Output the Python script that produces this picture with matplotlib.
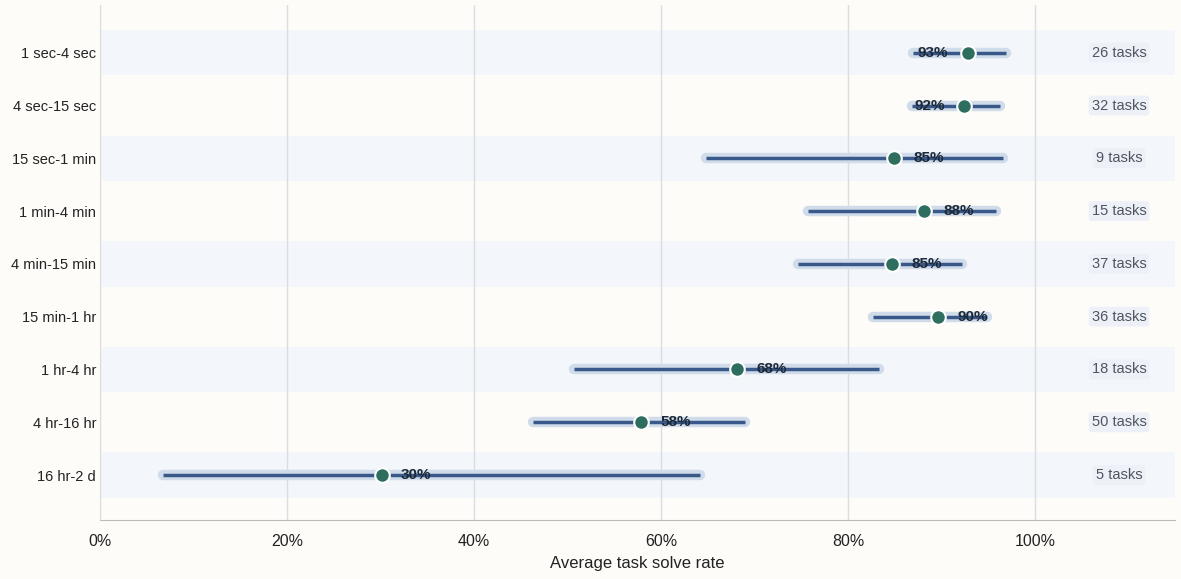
import numpy as np
import matplotlib.pyplot as plt

plt.rcParams['font.family'] = ['Liberation Sans', 'DejaVu Sans']

buckets = ['1 sec-4 sec', '4 sec-15 sec', '15 sec-1 min', '1 min-4 min', '4 min-15 min',
           '15 min-1 hr', '1 hr-4 hr', '4 hr-16 hr', '16 hr-2 d']
solve = [92.8, 92.4, 84.9, 88.1, 84.7, 89.6, 68.1, 57.9, 30.1]
low = [87.0, 86.8, 64.8, 75.7, 74.7, 82.7, 50.7, 46.3, 6.7]
high = [96.9, 96.3, 96.6, 95.8, 92.2, 94.9, 83.3, 69.0, 64.2]
ntasks = [26, 32, 9, 15, 37, 36, 18, 50, 5]

bg = '#fdfcf8'
fig = plt.figure(figsize=(11.81, 5.79), dpi=100, facecolor=bg)
axe = fig.add_axes([0.085, 0.102, 0.91, 0.889])
axe.set_facecolor(bg)

y = np.arange(len(buckets))

# alternating row bands
for i in y:
    if i % 2 == 0:
        axe.axhspan(i - 0.43, i + 0.43, color='#f3f6fa', zorder=0, lw=0)

for i in y:
    axe.plot([low[i], high[i]], [i, i], color='#d0dcea', lw=7.5, solid_capstyle='round', zorder=2)
    axe.plot([low[i], high[i]], [i, i], color='#38598a', lw=2.5, solid_capstyle='butt', zorder=3)
axe.scatter(solve, y, s=110, color='#2d6e5e', edgecolor='white', linewidth=1.5, zorder=4)

for i in y:
    if solve[i] > 91:
        xt = solve[i] - 3.7
    else:
        xt = solve[i] + 3.7
    axe.text(xt, i, '%d%%' % round(solve[i]), ha='center', va='center', fontsize=11,
             fontweight='bold', color='#1c2836', zorder=5)
    axe.text(109, i, '%d tasks' % ntasks[i], ha='center', va='center', fontsize=10.5,
             color='#4f5560', zorder=5,
             bbox=dict(boxstyle='round,pad=0.2', fc='#edf1f7', ec='none'))

axe.set_xlim(0, 115)
axe.set_ylim(8.85, -0.9)
axe.set_xticks([0, 20, 40, 60, 80, 100])
axe.set_xticklabels(['0%', '20%', '40%', '60%', '80%', '100%'], fontsize=11.5, color='#222222')
axe.set_yticks(y)
axe.set_yticklabels(buckets, fontsize=10.5, color='#222222')
axe.tick_params(length=0, pad=3)
axe.tick_params(axis='x', pad=10)
axe.xaxis.grid(True, color='#dcdde0', lw=1, zorder=1)
axe.set_axisbelow(True)
for s in ['top', 'right']:
    axe.spines[s].set_visible(False)
axe.spines['left'].set_color('#dddddd')
axe.spines['bottom'].set_color('#bbbbbb')
axe.set_xlabel('Average task solve rate', fontsize=12, color='#222222', labelpad=5)

fig.savefig('out.png', dpi=100, facecolor=bg)
